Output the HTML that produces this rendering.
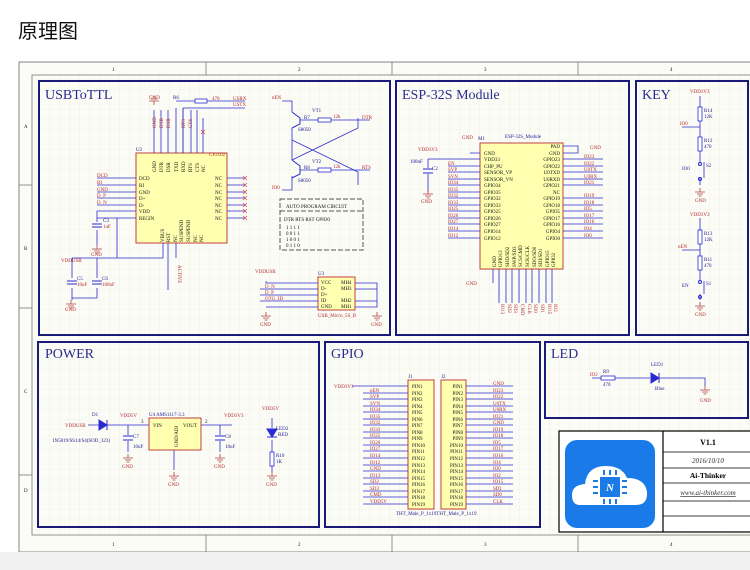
<!DOCTYPE html>
<html><head><meta charset="utf-8"><style>
html,body{margin:0;padding:0;background:#fff;}
svg{display:block;font-family:"Liberation Serif",serif;}
.r{fill:#b02828;font-size:5px}
.k{fill:#111;font-size:5px}
.n{fill:#202090;font-size:5px}
.w{stroke:#2a2ad0;stroke-width:.8;fill:none}
.g{stroke:#888;stroke-width:.7;fill:none}
.p{stroke:#1a1a7a;stroke-width:2;fill:none}
.ch{fill:#ffffb0;stroke:#c04040;stroke-width:1}
.t{fill:#2a2a90;font-size:14px}
.rs{fill:#fff;stroke:#2a2ad0;stroke-width:.8}
</style></head><body>
<svg width="750" height="570" viewBox="0 0 750 570">
<defs>
<pattern id="grid" width="10" height="10" patternUnits="userSpaceOnUse"><path d="M10 0V10H0" fill="none" stroke="#e9e8dc" stroke-width=".6"/></pattern>
<g id="gnd"><path d="M0 0V4M-5 4H5M-3 6H3M-1.5 8H1.5" stroke="#b04040" stroke-width=".8" fill="none"/></g>
</defs>
<rect width="750" height="570" fill="#fff"/>
<text x="18" y="38" font-family="'Liberation Sans','Noto Sans CJK SC',sans-serif" font-size="20" fill="#111">原理图</text>
<rect x="19" y="62" width="740" height="490" fill="#fcfcf7" stroke="#666" stroke-width=".8"/>
<rect x="32" y="75" width="720" height="460" fill="url(#grid)" stroke="#777" stroke-width=".8"/>
<rect x="0" y="552" width="750" height="18" fill="#f0f0f0"/>
<g stroke="#777" stroke-width=".8"><line x1="206" y1="62" x2="206" y2="75"/><line x1="392" y1="62" x2="392" y2="75"/><line x1="578" y1="62" x2="578" y2="75"/>
<line x1="206" y1="535" x2="206" y2="552"/><line x1="392" y1="535" x2="392" y2="552"/><line x1="578" y1="535" x2="578" y2="552"/>
<line x1="19" y1="185" x2="32" y2="185"/><line x1="19" y1="308" x2="32" y2="308"/><line x1="19" y1="475" x2="32" y2="475"/></g>
<g class="k" font-size="5"><text x="112" y="71">1</text><text x="298" y="71">2</text><text x="484" y="71">3</text><text x="670" y="71">4</text>
<text x="112" y="546">1</text><text x="298" y="546">2</text><text x="484" y="546">3</text><text x="670" y="546">4</text>
<text x="24" y="128">A</text><text x="24" y="250">B</text><text x="24" y="393">C</text><text x="24" y="492">D</text></g>

<!-- panels -->
<rect class="p" x="39" y="81" width="351" height="254"/>
<rect class="p" x="396" y="81" width="233" height="254"/>
<rect class="p" x="636" y="81" width="112" height="254"/>
<rect class="p" x="38" y="342" width="281" height="185"/>
<rect class="p" x="325" y="342" width="215" height="185"/>
<rect class="p" x="545" y="342" width="203" height="76"/>
<text class="t" x="45" y="99">USBToTTL</text>
<text class="t" x="402" y="99">ESP-32S Module</text>
<text class="t" x="642" y="99">KEY</text>
<text class="t" x="45" y="358">POWER</text>
<text class="t" x="331" y="358">GPIO</text>
<text class="t" x="551" y="358">LED</text>

<!-- USBToTTL CP2102 -->
<rect class="ch" x="136" y="153" width="91" height="90"/>
<g class="w">
<path d="M97 178H136M97 185H136M97 192H136M97 198H136M97 205H136M97 211H136M97 218H136"/>
<path d="M227 178H245M227 185H245M227 192H245M227 198H245M227 205H245M227 211H245M227 218H245"/>
<path d="M154 110V153M161 110V153M168 110V153M176 108V153M183 108V153M191 110V153M197 110V153M203 118V153"/>
<path d="M176 101H245M183 108H245M183 108V153"/>
<path d="M97 211V222M97 230V245"/>
<path d="M163 243V258H72M117 218V258M72 258V278M97 258V278M72 288V300M97 288V298H72"/>
<path d="M168 243V290M176 243V258"/>
</g>
<rect class="rs" x="195" y="99" width="12" height="4"/>
<use href="#gnd" x="154" y="101" transform="rotate(180 154 101) translate(0 -4)"/>
<text class="r" x="149" y="99">GND</text><text class="n" x="173" y="99">R6</text><text class="r" x="212" y="100">470</text>
<text class="r" x="233" y="100">USRX</text><text class="r" x="233" y="106">USTX</text>
<g class="r"><text x="97" y="177">DCD</text><text x="97" y="184">RI</text><text x="97" y="191">GND</text><text x="97" y="197">D_P</text><text x="97" y="204">D_N</text></g>
<g class="k"><text x="139" y="180">DCD</text><text x="139" y="187">RI</text><text x="139" y="194">GND</text><text x="139" y="200">D+</text><text x="139" y="207">D-</text><text x="139" y="213">VDD</text><text x="139" y="220">REGIN</text>
<text x="215" y="180">NC</text><text x="215" y="187">NC</text><text x="215" y="194">NC</text><text x="215" y="200">NC</text><text x="215" y="207">NC</text><text x="215" y="213">NC</text><text x="215" y="220">NC</text>
<text x="209" y="156" fill="#b02828">CP2102</text><text x="136" y="151" fill="#202090">U2</text></g>
<g class="k" font-size="4.5"><text transform="translate(156,172) rotate(-90)">GND</text><text transform="translate(163,172) rotate(-90)">DTR</text><text transform="translate(170,172) rotate(-90)">DSR</text><text transform="translate(178,172) rotate(-90)">TXD</text><text transform="translate(185,172) rotate(-90)">RXD</text><text transform="translate(192,172) rotate(-90)">RTS</text><text transform="translate(199,172) rotate(-90)">CTS</text><text transform="translate(205,172) rotate(-90)">NC</text>
<text transform="translate(164,242) rotate(-90)">VBUS</text><text transform="translate(170,242) rotate(-90)">RST</text><text transform="translate(177,242) rotate(-90)">NC</text><text transform="translate(183,242) rotate(-90)">SUSPEND</text><text transform="translate(190,242) rotate(-90)">SUSPEND</text><text transform="translate(197,242) rotate(-90)">NC</text><text transform="translate(203,242) rotate(-90)">NC</text></g>
<g class="r" font-size="4.5"><text transform="translate(156,128) rotate(-90)">GND</text><text transform="translate(163,128) rotate(-90)">DTR</text><text transform="translate(170,128) rotate(-90)">DSR</text><text transform="translate(185,128) rotate(-90)">RTS</text><text transform="translate(192,128) rotate(-90)">CTS</text><text transform="translate(178,265) rotate(90)">ACTIVE</text></g>
<g stroke="#d04040" stroke-width=".6"><path d="M243 176l4 4m0-4l-4 4M243 183l4 4m0-4l-4 4M243 190l4 4m0-4l-4 4M243 196l4 4m0-4l-4 4M243 203l4 4m0-4l-4 4M243 209l4 4m0-4l-4 4M243 216l4 4m0-4l-4 4M201 130l4 4m0-4l-4 4"/></g>
<path d="M92 224H102M92 227H102M67 281H77M67 284H77M92 281H102M92 284H102" stroke="#2a2ad0" stroke-width="1"/>
<text class="n" x="103" y="222">C3</text><text class="r" x="103" y="228">1uF</text>
<use href="#gnd" x="97" y="245"/><text class="r" x="91" y="256">GND</text>
<text class="r" x="61" y="262">VDDUSB</text>
<text class="n" x="77" y="280">C5</text><text class="r" x="77" y="286">10uF</text><text class="n" x="102" y="280">C6</text><text class="r" x="102" y="286">100nF</text>
<use href="#gnd" x="71" y="300"/><text class="r" x="65" y="311">GND</text>

<!-- transistors -->
<g class="w"><path d="M282 101H292V112M292 128V140L358 172V185M292 160L358 128V118M292 176V190H282M292 140V160"/>
<path d="M300 120H358M300 170H358M358 120H370M358 170H370"/></g>
<path d="M292 112L300 118V124L292 128M292 160L300 166V174L292 178" stroke="#2a2ad0" fill="none"/>
<rect class="rs" x="318" y="118" width="13" height="4"/><rect class="rs" x="318" y="168" width="13" height="4"/>
<g class="r"><text x="272" y="99">nEN</text><text x="362" y="119">DTR</text><text x="362" y="169">RTS</text><text x="272" y="189">IO0</text><text x="333" y="118">12k</text><text x="333" y="168">12k</text></g>
<g class="n"><text x="312" y="112">VT1</text><text x="312" y="163">VT2</text><text x="304" y="119">R7</text><text x="304" y="169">R8</text><text x="298" y="131">S8050</text><text x="298" y="182">S8050</text></g>
<rect x="280" y="199" width="83" height="51" fill="none" stroke="#555" stroke-dasharray="5 2" stroke-width="1"/>
<line x1="280" y1="211" x2="363" y2="211" stroke="#555" stroke-dasharray="5 2"/>
<g class="k" font-size="4.6"><text x="286" y="208">AUTO PROGRAM CIRCUIT</text><text x="284" y="221">DTR  RTS  RST  GPIO0</text>
<text x="286" y="229">1       1       1       1</text><text x="286" y="235">0       0       1       1</text><text x="286" y="241">1       0       0       1</text><text x="286" y="247">0       1       1       0</text></g>
<!-- USB -->
<rect class="ch" x="318" y="277" width="37" height="33"/>
<g class="w"><path d="M266 281V283H318M260 289H318M260 295H318M260 301H318M266 307H318M355 283H377V307H355M355 289H377M355 301H377"/></g>
<g class="k" font-size="4.6"><text x="321" y="284">VCC</text><text x="321" y="290">D-</text><text x="321" y="296">D+</text><text x="321" y="302">ID</text><text x="321" y="308">GND</text><text x="341" y="284">MH4</text><text x="341" y="290">MH3</text><text x="341" y="302">MH2</text><text x="341" y="308">MH1</text></g>
<g class="r"><text x="255" y="273">VDDUSB</text><text x="265" y="288">D_N</text><text x="265" y="294">D_P</text><text x="265" y="300">OTG_ID</text><text x="318" y="275" fill="#202090">U3</text><text x="318" y="317">USB_Micro_5S_B</text></g>
<use href="#gnd" x="266" y="312"/><use href="#gnd" x="377" y="312"/><text class="r" x="260" y="326">GND</text><text class="r" x="371" y="326">GND</text>

<!-- ESP module -->
<rect class="ch" x="480" y="143" width="83" height="126"/>
<g class="w">
<path d="M428 159H480M448 166H480M448 172H480M448 179H480M448 185H480M448 192H480M448 198H480M448 205H480M448 211H480M448 218H480M448 224H480M448 231H480M448 238H480M470 153H480"/>
<path d="M563 159H603M563 166H603M563 172H603M563 179H603M563 185H603M563 198H603M563 205H603M563 211H603M563 218H603M563 224H603M563 231H603M563 238H603M563 146H578V153H563"/>
<path d="M428 159V168M428 174V192"/>
<path d="M499 269V303M506 269V303M512 269V303M519 269V303M526 269V303M532 269V303M539 269V303M546 269V303M552 269V303M493 269V283"/>
</g>
<path d="M423 169H433M423 173H433" stroke="#2a2ad0" stroke-width="1"/>
<g class="k" font-size="4.8"><text x="484" y="155">GND</text><text x="484" y="161">VDD33</text><text x="484" y="168">CHP_PU</text><text x="484" y="174">SENSOR_VP</text><text x="484" y="181">SENSOR_VN</text><text x="484" y="187">GPIO34</text><text x="484" y="194">GPIO35</text><text x="484" y="200">GPIO32</text><text x="484" y="207">GPIO33</text><text x="484" y="213">GPIO25</text><text x="484" y="220">GPIO26</text><text x="484" y="226">GPIO27</text><text x="484" y="233">GPIO14</text><text x="484" y="240">GPIO12</text></g>
<g class="k" font-size="4.8" text-anchor="end"><text x="560" y="148">PAD</text><text x="560" y="155">GND</text><text x="560" y="161">GPIO23</text><text x="560" y="168">GPIO22</text><text x="560" y="174">U0TXD</text><text x="560" y="181">U0RXD</text><text x="560" y="187">GPIO21</text><text x="560" y="194">NC</text><text x="560" y="200">GPIO19</text><text x="560" y="207">GPIO18</text><text x="560" y="213">GPIO5</text><text x="560" y="220">GPIO17</text><text x="560" y="226">GPIO16</text><text x="560" y="233">GPIO4</text><text x="560" y="240">GPIO0</text></g>
<g class="r" font-size="4.8"><text x="448" y="165">EN</text><text x="448" y="171">SVP</text><text x="448" y="178">SVN</text><text x="448" y="184">IO34</text><text x="448" y="191">IO35</text><text x="448" y="197">IO32</text><text x="448" y="204">IO33</text><text x="448" y="210">IO25</text><text x="448" y="217">IO26</text><text x="448" y="223">IO27</text><text x="448" y="230">IO14</text><text x="448" y="237">IO12</text>
<text x="584" y="158">IO23</text><text x="584" y="165">IO22</text><text x="584" y="171">U0TX</text><text x="584" y="178">U0RX</text><text x="584" y="184">IO21</text><text x="584" y="197">IO19</text><text x="584" y="204">IO18</text><text x="584" y="210">IO5</text><text x="584" y="217">IO17</text><text x="584" y="223">IO16</text><text x="584" y="230">IO4</text><text x="584" y="237">IO0</text>
<text x="590" y="149">GND</text><text x="418" y="151">VDD3V3</text><text x="462" y="139">GND</text><text x="466" y="285">GND</text><text x="421" y="203">GND</text></g>
<text class="n" x="478" y="140">M1</text><text class="n" x="505" y="138">ESP-32S_Module</text><text class="n" x="410" y="163">100nF</text><text class="n" x="432" y="170">C2</text>
<use href="#gnd" x="428" y="190"/>
<g class="k" font-size="4.3"><text transform="translate(496,267) rotate(-90)">GND</text><text transform="translate(502,267) rotate(-90)">GPIO13</text><text transform="translate(509,267) rotate(-90)">SHD/SD2</text><text transform="translate(516,267) rotate(-90)">SWP/SD3</text><text transform="translate(522,267) rotate(-90)">SCS/CMD</text><text transform="translate(529,267) rotate(-90)">SCK/CLK</text><text transform="translate(536,267) rotate(-90)">SDO/SD0</text><text transform="translate(542,267) rotate(-90)">SDI/SD1</text><text transform="translate(549,267) rotate(-90)">GPIO15</text><text transform="translate(555,267) rotate(-90)">GPIO2</text></g>
<g class="r" font-size="4.3"><text transform="translate(501,304) rotate(90)">IO13</text><text transform="translate(508,304) rotate(90)">SD2</text><text transform="translate(514,304) rotate(90)">SD3</text><text transform="translate(521,304) rotate(90)">CMD</text><text transform="translate(528,304) rotate(90)">CLK</text><text transform="translate(534,304) rotate(90)">SD0</text><text transform="translate(541,304) rotate(90)">SD1</text><text transform="translate(548,304) rotate(90)">IO15</text><text transform="translate(554,304) rotate(90)">IO2</text></g>

<!-- KEY -->
<g class="w"><path d="M700 96V107M700 121V137M682 127H700M700 151V162M700 178V185M700 218V230M700 244V256M682 250H700M700 270V280M700 294V300"/><path d="M704 162V178M704 281V294"/></g>
<rect class="rs" x="698" y="107" width="4" height="14"/><rect class="rs" x="698" y="137" width="4" height="14"/>
<rect class="rs" x="698" y="230" width="4" height="14"/><rect class="rs" x="698" y="256" width="4" height="14"/>
<circle cx="700" cy="164" r="1.5" fill="none" stroke="#2a2ad0"/><circle cx="700" cy="179" r="1.5" fill="none" stroke="#2a2ad0"/>
<circle cx="700" cy="282" r="1.5" fill="none" stroke="#2a2ad0"/><circle cx="700" cy="297" r="1.5" fill="none" stroke="#2a2ad0"/>
<use href="#gnd" x="700" y="188"/><use href="#gnd" x="700" y="302"/>
<g class="r"><text x="690" y="93">VDD3V3</text><text x="690" y="216">VDD3V3</text><text x="680" y="125">IO0</text><text x="678" y="248">nEN</text><text x="695" y="202">GND</text><text x="695" y="316">GND</text></g>
<g class="n"><text x="704" y="112">R14</text><text x="704" y="118">12K</text><text x="704" y="142">R12</text><text x="704" y="148">470</text><text x="706" y="167">S2</text><text x="682" y="170">IO0</text>
<text x="704" y="235">R13</text><text x="704" y="241">12K</text><text x="704" y="261">R11</text><text x="704" y="267">470</text><text x="706" y="285">S1</text><text x="682" y="287">EN</text></g>

<!-- POWER -->
<g class="w"><path d="M88 425H149M201 425H232M128 425V435M128 441V452M220 425V435M220 441V452M174 450V470M272 418V428M272 440V452M272 466V472"/></g>
<path d="M99 420L107 425L99 430ZM107 420V430" fill="#2a2ad0" stroke="#2a2ad0"/>
<path d="M123 436H133M123 440H133M215 436H225M215 440H225" stroke="#2a2ad0" stroke-width="1"/>
<rect class="ch" x="149" y="418" width="52" height="32"/>
<path d="M267 429H277L272 437ZM267 437H277" fill="#2a2ad0" stroke="#2a2ad0"/>
<rect class="rs" x="270" y="452" width="4" height="14"/>
<use href="#gnd" x="128" y="454"/><use href="#gnd" x="174" y="472"/><use href="#gnd" x="220" y="454"/><use href="#gnd" x="272" y="472"/>
<g class="r"><text x="65" y="427">VDDUSB</text><text x="120" y="417">VDD5V</text><text x="224" y="417">VDD3V3</text><text x="262" y="410">VDD5V</text>
<text x="122" y="468">GND</text><text x="168" y="486">GND</text><text x="214" y="468">GND</text><text x="266" y="486">GND</text></g>
<g class="n"><text x="92" y="416">D1</text><text x="52" y="442">1N5819/SS14/S4(SOD_323)</text><text x="149" y="416">U4  AMS1117-3.3</text><text x="133" y="438">C7</text><text x="133" y="448">10uF</text><text x="225" y="438">C8</text><text x="225" y="448">10uF</text>
<text x="276" y="430">LED2</text><text x="278" y="436">RED</text><text x="276" y="457">R10</text><text x="276" y="463">1K</text><text x="141" y="423" fill="#111">3</text><text x="205" y="423" fill="#111">2</text></g>
<g class="k"><text x="153" y="427">VIN</text><text x="183" y="427">VOUT</text><text transform="translate(178,447) rotate(-90)">GND/ADJ</text></g>

<!-- GPIO -->
<rect class="ch" x="408" y="380" width="26" height="129"/>
<rect class="ch" x="441" y="380" width="25" height="129"/>
<g stroke="#2a2ad0" stroke-width=".8">
<path d="M352 386H408M363 393H408M363 399H408M363 406H408M363 412H408M363 419H408M363 425H408M363 432H408M363 438H408M363 445H408M363 451H408M363 458H408M363 465H408M363 471H408M363 478H408M363 484H408M363 491H408M363 497H408M363 504H408"/>
<path d="M466 386H513M466 393H513M466 399H513M466 406H513M466 412H513M466 419H513M466 425H513M466 432H513M466 438H513M466 445H513M466 451H513M466 458H513M466 465H513M466 471H513M466 478H513M466 484H513M466 491H513M466 497H513M466 504H513"/></g>
<g class="k" font-size="4.6"><text x="412" y="388">PIN1</text><text x="412" y="395">PIN2</text><text x="412" y="401">PIN3</text><text x="412" y="408">PIN4</text><text x="412" y="414">PIN5</text><text x="412" y="421">PIN6</text><text x="412" y="427">PIN7</text><text x="412" y="434">PIN8</text><text x="412" y="440">PIN9</text><text x="412" y="447">PIN10</text><text x="412" y="453">PIN11</text><text x="412" y="460">PIN12</text><text x="412" y="467">PIN13</text><text x="412" y="473">PIN14</text><text x="412" y="480">PIN15</text><text x="412" y="486">PIN16</text><text x="412" y="493">PIN17</text><text x="412" y="499">PIN18</text><text x="412" y="506">PIN19</text></g>
<g class="k" font-size="4.6" text-anchor="end"><text x="463" y="388">PIN1</text><text x="463" y="395">PIN2</text><text x="463" y="401">PIN3</text><text x="463" y="408">PIN4</text><text x="463" y="414">PIN5</text><text x="463" y="421">PIN6</text><text x="463" y="427">PIN7</text><text x="463" y="434">PIN8</text><text x="463" y="440">PIN9</text><text x="463" y="447">PIN10</text><text x="463" y="453">PIN11</text><text x="463" y="460">PIN12</text><text x="463" y="467">PIN13</text><text x="463" y="473">PIN14</text><text x="463" y="480">PIN15</text><text x="463" y="486">PIN16</text><text x="463" y="493">PIN17</text><text x="463" y="499">PIN18</text><text x="463" y="506">PIN19</text></g>
<g class="r" font-size="4.6"><text x="334" y="388">VDD3V3</text><text x="370" y="392">nEN</text><text x="370" y="398">SVP</text><text x="370" y="405">SVN</text><text x="370" y="411">IO34</text><text x="370" y="418">IO35</text><text x="370" y="424">IO32</text><text x="370" y="431">IO33</text><text x="370" y="437">IO25</text><text x="370" y="444">IO26</text><text x="370" y="450">IO27</text><text x="370" y="457">IO14</text><text x="370" y="464">IO12</text><text x="370" y="470">GND</text><text x="370" y="477">IO13</text><text x="370" y="483">SD2</text><text x="370" y="490">SD3</text><text x="370" y="496">CMD</text><text x="370" y="503">VDD5V</text>
<text x="493" y="385">GND</text><text x="493" y="392">IO23</text><text x="493" y="398">IO22</text><text x="493" y="405">U0TX</text><text x="493" y="411">U0RX</text><text x="493" y="418">IO21</text><text x="493" y="424">GND</text><text x="493" y="431">IO19</text><text x="493" y="437">IO18</text><text x="493" y="444">IO5</text><text x="493" y="450">IO17</text><text x="493" y="457">IO16</text><text x="493" y="464">IO4</text><text x="493" y="470">IO0</text><text x="493" y="477">IO2</text><text x="493" y="483">IO15</text><text x="493" y="490">SD1</text><text x="493" y="496">SD0</text><text x="493" y="503">CLK</text></g>
<text class="n" x="408" y="378">J1</text><text class="n" x="441" y="378">J2</text><text class="n" x="396" y="515">THT_Male_P_1x19THT_Male_P_1x19</text>

<!-- LED -->
<g class="w"><path d="M592 378H650M658 378H705V386"/></g>
<rect class="rs" x="601" y="376" width="14" height="4"/>
<path d="M651 373V383L659 378ZM659 373V383" fill="#2a2ad0" stroke="#2a2ad0"/>
<use href="#gnd" x="705" y="386"/>
<g class="r"><text x="590" y="376">IO2</text><text x="700" y="402">GND</text></g>
<g class="n"><text x="603" y="373">R9</text><text x="603" y="386">470</text><text x="651" y="366">LED1</text><text x="655" y="390">Blue</text></g>

<!-- title block -->
<rect x="559" y="431" width="195" height="101" fill="#fff" stroke="#000" stroke-width="1.2"/>
<line x1="663" y1="431" x2="663" y2="532" stroke="#000" stroke-width="1.2"/>
<g stroke="#000" stroke-width=".8"><line x1="663" y1="452" x2="754" y2="452"/><line x1="663" y1="468" x2="754" y2="468"/><line x1="663" y1="483" x2="754" y2="483"/><line x1="663" y1="501" x2="754" y2="501"/><line x1="663" y1="516" x2="754" y2="516"/></g>
<rect x="565" y="440" width="90" height="88" rx="12" fill="#1a7ae8"/>
<path d="M580 505 Q572 505 572 495 Q572 485 585 484 Q587 466 606 466 Q622 466 627 478 Q645 478 647 492 Q648 505 636 505 Z" fill="#fff"/>
<rect x="600" y="477" width="20" height="20" fill="#1a7ae8"/>
<g stroke="#1a7ae8" stroke-width="2"><path d="M604 470v5M610 470v5M616 470v5M604 499v5M610 499v5M616 499v5M593 481h5M593 487h5M593 493h5M622 481h5M622 487h5M622 493h5"/></g>
<text x="610" y="491" fill="#fff" font-size="11" font-weight="bold" font-style="italic" text-anchor="middle">N</text>
<g font-family="'Liberation Serif',serif" text-anchor="middle"><text x="708" y="445" font-size="8" font-weight="bold">V1.1</text><text x="708" y="463" font-size="7" font-style="italic" fill="#333">2016/10/10</text><text x="708" y="478" font-size="7.5" font-weight="bold">Ai-Thinker</text><text x="708" y="495" font-size="7" font-style="italic" text-decoration="underline" fill="#333">www.ai-thinker.com</text></g>
</svg>
</body></html>
